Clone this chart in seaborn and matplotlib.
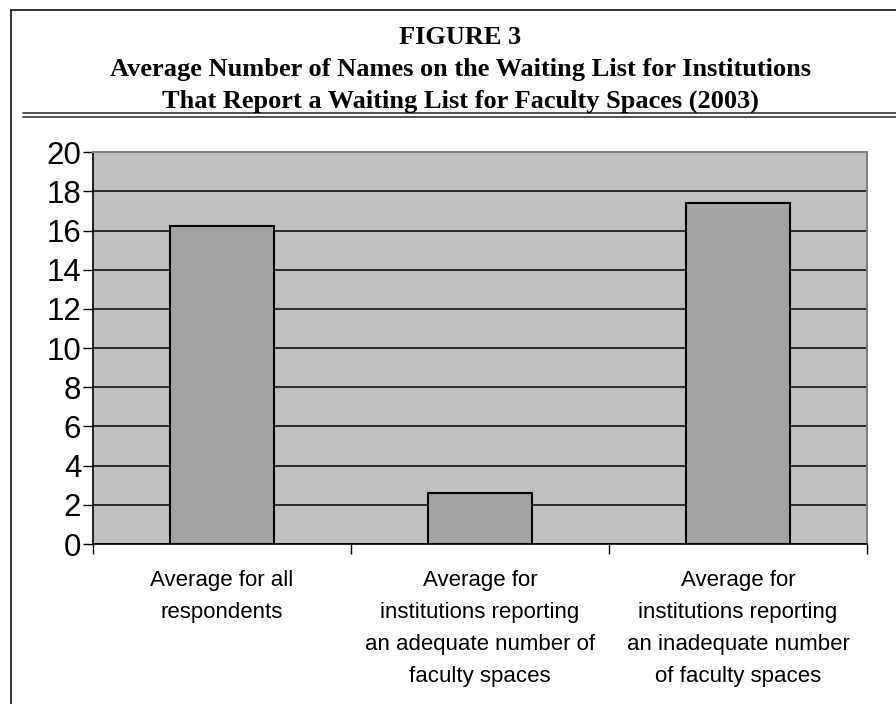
import matplotlib
matplotlib.use("Agg")
import matplotlib.pyplot as plt
import seaborn as sns
import pandas as pd
from matplotlib.lines import Line2D
from matplotlib.ticker import FixedLocator

# ---- data ----
categories = [
    "Average for all\nrespondents",
    "Average for\ninstitutions reporting\nan adequate number of\nfaculty spaces",
    "Average for\ninstitutions reporting\nan inadequate number\nof faculty spaces",
]
values = [16.25, 2.6, 17.4]
y_ticks = [0, 2, 4, 6, 8, 10, 12, 14, 16, 18, 20]
title_lines = [
    "FIGURE 3",
    "Average Number of Names on the Waiting List for Institutions",
    "That Report a Waiting List for Faculty Spaces (2003)",
]

sns.set_theme(style="white")
plt.rcParams['font.family'] = ['Liberation Sans', 'DejaVu Sans']

W, H = 896, 704
fig = plt.figure(figsize=(W / 100, H / 100), dpi=100)
fig.patch.set_facecolor("white")

ax = fig.add_axes([93 / W, (H - 544) / H, (867 - 93) / W, (544 - 152.3) / H])
df = pd.DataFrame({"cat": categories, "val": values})
sns.barplot(data=df, x="cat", y="val", ax=ax, color="#A4A4A4", saturation=1,
            width=0.4, edgecolor="black", linewidth=1.5, zorder=3)

ax.set_facecolor("#C0C0C0")
ax.set_xlim(-0.5, 2.5)
ax.set_ylim(0, 20)
ax.set_yticks(y_ticks)
ax.set_yticklabels([str(t) for t in y_ticks])
ax.set_xlabel("")
ax.set_ylabel("")

ax.set_axisbelow(True)
ax.yaxis.grid(True, color="black", linewidth=1.1)
ax.xaxis.grid(False)
ax.yaxis.get_gridlines()[-1].set_visible(False)

for side in ["top", "right"]:
    ax.spines[side].set_visible(True)
    ax.spines[side].set_color("#808080")
    ax.spines[side].set_linewidth(1.5)
for side in ["left", "bottom"]:
    ax.spines[side].set_visible(True)
    ax.spines[side].set_color("black")
    ax.spines[side].set_linewidth(1.2)

ax.tick_params(axis="y", which="major", left=True, length=7, width=1, color="black",
               direction="out", labelsize=22.5, pad=1.5, labelcolor="black")
ax.xaxis.set_minor_locator(FixedLocator([-0.5, 0.5, 1.5, 2.5]))
ax.tick_params(axis="x", which="major", bottom=True, length=0, labelsize=16, pad=19,
               labelcolor="black")
ax.tick_params(axis="x", which="minor", bottom=True, length=7, width=1, color="black",
               direction="out")
for lbl in ax.get_xticklabels():
    lbl.set_linespacing(1.67)
    lbl.set_verticalalignment("top")

# ---- title block ----
title_baselines = [44, 76, 108]
for txt, yb in zip(title_lines, title_baselines):
    fig.text(460 / W, 1 - yb / H, txt, ha="center", va="baseline",
             fontsize=19, fontweight="bold", family=["Liberation Serif", "DejaVu Serif"],
             color="black")

# ---- frame lines ----
def hline(y, x0, x1, color, lw):
    fig.add_artist(Line2D([x0 / W, x1 / W], [1 - y / H, 1 - y / H],
                          transform=fig.transFigure, color=color, linewidth=lw))

def vline(x, y0, y1, color, lw):
    fig.add_artist(Line2D([x / W, x / W], [1 - y0 / H, 1 - y1 / H],
                          transform=fig.transFigure, color=color, linewidth=lw))

hline(9.5, 10.7, W, "#222222", 1.3)
vline(10.7, 9.5, H, "#222222", 1.3)
hline(112.7, 23, W, "#333333", 1.2)
hline(116.9, 23, W, "#333333", 1.2)

fig.savefig("out.png", dpi=100)
